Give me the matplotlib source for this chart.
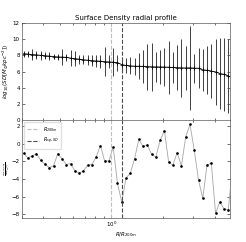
import numpy as np
import matplotlib
matplotlib.use('Agg')
import matplotlib.pyplot as plt

# Radial bins in units of R200m
radius = [0.307, 0.325, 0.344, 0.365, 0.386, 0.409, 0.433, 0.459, 0.486, 0.514,
          0.545, 0.577, 0.611, 0.647, 0.685, 0.726, 0.768, 0.814, 0.862, 0.912,
          0.966, 1.023, 1.084, 1.148, 1.215, 1.287, 1.363, 1.443, 1.528, 1.619,
          1.714, 1.815, 1.922, 2.036, 2.156, 2.283, 2.417, 2.560, 2.711, 2.871,
          3.040, 3.220, 3.409, 3.611, 3.824, 4.049, 4.288, 4.541, 4.809, 5.093]

# log10 surface density profile and its scatter
log_sd = [8.20, 8.15, 8.10, 8.05, 8.00, 7.95, 7.90, 7.85, 7.80, 7.78,
          7.75, 7.65, 7.60, 7.52, 7.45, 7.40, 7.35, 7.30, 7.27, 7.22,
          7.18, 7.15, 7.10, 6.85, 6.75, 6.70, 6.65, 6.65, 6.63, 6.60,
          6.58, 6.57, 6.56, 6.55, 6.53, 6.50, 6.47, 6.45, 6.44, 6.45,
          6.42, 6.40, 6.20, 6.15, 6.05, 5.95, 5.75, 5.65, 5.45, 5.15]
log_sd_err = [0.35, 0.40, 0.70, 0.50, 0.55, 0.45, 0.50, 0.30, 0.35, 1.00,
              0.40, 1.00, 0.90, 0.55, 0.55, 0.60, 0.70, 0.75, 0.80, 1.80,
              0.80, 1.70, 1.00, 0.90, 0.95, 1.05, 1.05, 1.60, 2.00, 2.85,
              3.00, 1.85, 2.10, 2.30, 3.30, 1.95, 2.75, 3.60, 2.70, 5.15,
              1.80, 2.45, 2.60, 2.95, 3.30, 4.10, 4.35, 4.55, 4.60, 4.60]

# logarithmic slope
slope = [-1.07, -1.60, -1.37, -1.10, -1.87, -2.30, -2.70, -2.50, -1.10, -1.70,
         -2.35, -2.25, -3.05, -3.35, -3.05, -2.45, -2.35, -1.50, -0.20, -1.95,
         -1.95, -0.35, -4.50, -6.60, -3.90, -3.35, -1.70, 0.50, -0.30, -0.10,
         -1.20, -1.50, 0.40, 1.50, -2.10, -2.40, -1.00, -2.50, 0.80, 2.20,
         -0.70, -4.10, -6.20, -2.40, -2.20, -7.90, -6.60, -7.40, -7.50, -2.20]

r200m = 1.0
r_sp = 1.148

fig = plt.figure(figsize=(2.46, 2.42), dpi=100)
ax1 = fig.add_axes([0.089, 0.504, 0.845, 0.401])
ax2 = fig.add_axes([0.089, 0.100, 0.845, 0.404], sharex=ax1)

# Top: profile
ax1.errorbar(radius, log_sd, yerr=log_sd_err, fmt='-', color='k', ecolor='0.25',
             marker='+', ms=2.5, mew=0.5, lw=0.6, elinewidth=0.7, capsize=0)
ax1.axvline(r200m, color='0.75', ls='--', lw=0.8)
ax1.axvline(r_sp, color='0.3', ls='--', lw=0.8)
ax1.set_ylim(0, 12)
ax1.set_title('Surface Density radial profile', fontsize=5, pad=2)
ax1.set_ylabel(r'$log_{10}(SD[M_{\odot}kpc^{-2}])$', fontsize=4, labelpad=1)
plt.setp(ax1.get_xticklabels(), visible=False)

# Bottom: slope
ax2.plot(radius, slope, color='0.65', lw=0.6, marker='.', ms=1.8,
         mfc='k', mec='k')
ax2.axvline(r200m, color='0.75', ls='--', lw=0.8, label=r'$R_{200m}$')
ax2.axvline(r_sp, color='0.3', ls='--', lw=0.8, label=r'$R_{sp,SD}$')
ax2.set_xscale('log')
ax2.set_xlim(0.30, 4.9)
ax2.set_xlabel(r'$R/R_{200m}$', fontsize=4, labelpad=1)
ax2.set_ylabel(r'$\frac{dlog_{10}(SD)}{dlog_{10}(r)}$', fontsize=2.5)
ax2.yaxis.set_label_coords(-0.048, 0.5)
ax2.legend(loc='upper left', fontsize=3.5, frameon=True, edgecolor='0.85',
           handlelength=2.5, borderpad=0.5)

for ax in (ax1, ax2):
    ax.tick_params(which='both', direction='in', top=True, right=True,
                   labelsize=4, width=0.4, pad=1.5)
    ax.tick_params(which='major', length=2.5)
    ax.tick_params(which='minor', length=1.5)
    for sp in ax.spines.values():
        sp.set_color('0.35')
        sp.set_linewidth(0.5)

fig.savefig('out.png', dpi=100)
